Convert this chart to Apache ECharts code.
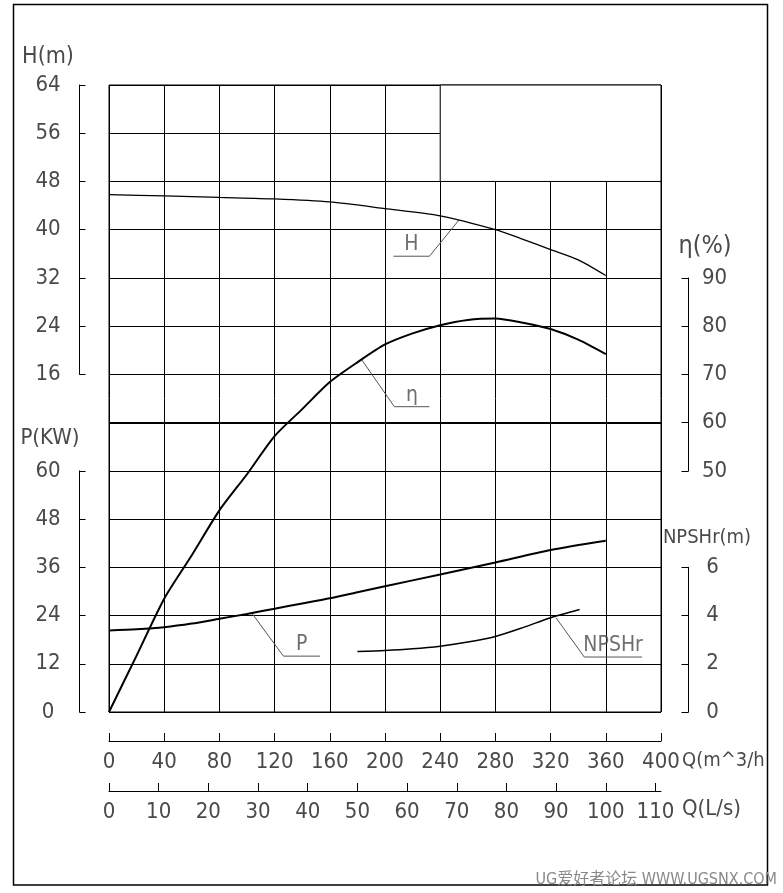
<!DOCTYPE html>
<html><head><meta charset="utf-8">
<script src="https://cdn.jsdelivr.net/npm/echarts@6/dist/echarts.min.js"></script>
<style>html,body{margin:0;padding:0;background:#fff}#c{width:783px;height:893px}</style>
</head><body><div id="c"></div>
<script>
// ---- tick labels ----
const qM3hTicks = [0,40,80,120,160,200,240,280,320,360,400];
const qLsTicks = [0,10,20,30,40,50,60,70,80,90,100,110];
const hTicks = [16,24,32,40,48,56,64];
const etaTicks = [50,60,70,80,90];
const pTicks = [0,12,24,36,48,60];
const npshTicks = [0,2,4,6];

// ---- curves (Q in m^3/h) ----
const qHead = [0,40,80,120,160,200,240,280,300,320,340,360];
const head  = [45.8,45.6,45.35,45.1,44.6,43.5,42.3,40.0,38.4,36.7,35.0,32.4];
const qEff = [0,20,40,60,80,100,120,140,160,180,200,220,240,260,280,300,320,340,360];
const eff  = [0,11.7,23.5,32.5,41.8,49.3,57.2,62.8,68.4,72.5,76.2,78.5,80.2,81.3,81.6,80.7,79.4,77.2,74.2];
const qPow = [0,20,40,60,80,100,120,140,160,180,200,240,280,320,360];
const power = [20.3,20.6,21.1,22.0,23.2,24.4,25.7,27.0,28.3,29.8,31.3,34.2,37.2,40.3,42.6];
const qNpsh = [180,200,220,240,260,280,300,320,341];
const npsh  = [2.51,2.55,2.62,2.73,2.9,3.13,3.5,3.91,4.25];

// ---- curve name leaders (Q, value on own axis) ----
const hLeader    = [[253.6,41.6],[232.2,35.6],[206.1,35.6]];
const etaLeader  = [[183.2,73.0],[206.8,63.3],[232.2,63.3]];
const pLeader    = [[103.5,24.6],[126.4,13.9],[153,13.9]];
const npshLeader = [[323.9,3.91],[344.4,2.28],[386.2,2.28]];
const curveNames = ['H','η','P','NPSHr'];

const FONT = '"DejaVu Sans Condensed","Liberation Sans Narrow","Arial Narrow",sans-serif';
const TXT = '#4a4a4a';
const W = 783, Hh = 893;
const G = {left:109, right:122, top:85, bottom:181};
const plotH = Hh - G.top - G.bottom;
const rowH = plotH / 13;
const FS = 22;

function zip(a,b){ return a.map((v,i)=>[v,b[i]]); }
function subGrid(rowTop,rowBottom){
  return {left:G.left, right:G.right, top:G.top + rowTop*rowH, height:(rowBottom-rowTop)*rowH, show:false};
}
const blackLine = {show:true, onZero:false, lineStyle:{color:'#000', width:1}};
function decoY(grid, pos, ticks, margin, len){
  return {
    gridIndex: grid, type:'value', position: pos, offset: pos==='left'?29.5:27.5,
    min: ticks[0], max: ticks[ticks.length-1], interval: ticks[1]-ticks[0],
    axisLine: blackLine,
    axisTick: {show:true, inside:true, length:len, lineStyle:{color:'#000', width:1}},
    axisLabel: {show:true, align:'center', margin: margin, color:TXT, fontSize:FS, fontFamily:FONT,
                customValues: ticks},
    splitLine: {show:false}
  };
}
function leaderSeries(data, yIdx, name){
  const mid = [(data[1][0]+data[2][0])/2, data[1][1]];
  return [
    {type:'line', xAxisIndex:0, yAxisIndex:yIdx, data:data, symbol:'none', silent:true,
     lineStyle:{color:'#555', width:1}, z:3},
    {type:'scatter', xAxisIndex:0, yAxisIndex:yIdx, data:[mid], symbolSize:0, silent:true,
     label:{show:true, position:'top', distance:1, formatter:name, color:TXT, fontSize:21, fontFamily:FONT}}
  ];
}
function curve(data, yIdx, width){
  return {type:'line', xAxisIndex:0, yAxisIndex:yIdx, data:data, symbol:'none', smooth:0.25,
          silent:true, lineStyle:{color:'#000', width:width}, z:4};
}

const chart = echarts.init(document.getElementById('c'), null, {renderer:'canvas'});
const headSeries = curve(zip(qHead, head), 0, 1.3);
headSeries.markLine = {silent:true, symbol:'none', label:{show:false},
  lineStyle:{color:'#000', width:2.2, type:'solid'}, data:[{yAxis:8}]};
headSeries.markArea = {silent:true, itemStyle:{color:'#fff', borderColor:'#000', borderWidth:1},
  data:[[{xAxis:240, yAxis:48},{xAxis:400, yAxis:64}]]};

const option = {
  animation:false,
  backgroundColor:'#fff',
  grid:[
    {left:G.left, right:G.right, top:G.top, bottom:G.bottom, show:true, borderColor:'#000', borderWidth:1},
    subGrid(0,6),   // H 64..16
    subGrid(4,8),   // eta 90..50
    subGrid(8,13),  // P 60..0
    subGrid(10,13)  // NPSHr 6..0
  ],
  xAxis:[
    {gridIndex:0, type:'value', min:0, max:400, interval:40, position:'bottom', offset:29,
     axisLine:blackLine,
     axisTick:{show:true, inside:true, length:8, lineStyle:{color:'#000'}},
     axisLabel:{color:TXT, fontSize:FS, fontFamily:FONT, margin:10, customValues:qM3hTicks},
     splitLine:{show:true, lineStyle:{color:'#000', width:1}}},
    {gridIndex:0, type:'value', min:0, max:400/3.6, position:'bottom', offset:79,
     axisLine:blackLine,
     axisTick:{show:true, inside:true, length:8, lineStyle:{color:'#000'}, customValues:qLsTicks},
     axisLabel:{color:TXT, fontSize:FS, fontFamily:FONT, margin:10, customValues:qLsTicks},
     splitLine:{show:false}},
    {gridIndex:1, type:'value', min:0, max:400, show:false},
    {gridIndex:2, type:'value', min:0, max:400, show:false},
    {gridIndex:3, type:'value', min:0, max:400, show:false},
    {gridIndex:4, type:'value', min:0, max:400, show:false}
  ],
  yAxis:[
    {gridIndex:0, type:'value', min:-40, max:64, interval:8,
     axisLine:{show:false}, axisTick:{show:false}, axisLabel:{show:false},
     splitLine:{show:true, lineStyle:{color:'#000', width:1}}},
    {gridIndex:0, type:'value', min:0, max:130, interval:10, show:false},
    {gridIndex:0, type:'value', min:0, max:156, interval:12, show:false},
    {gridIndex:0, type:'value', min:0, max:26, interval:2, show:false},
    decoY(1,'left', hTicks, 31.5, 6),
    decoY(2,'right', etaTicks, 26, 7),
    decoY(3,'left', pTicks, 31.5, 6),
    decoY(4,'right', npshTicks, 24, 7)
  ],
  series:[
    headSeries,
    curve(zip(qEff, eff), 1, 2),
    curve(zip(qPow, power), 2, 2),
    curve(zip(qNpsh, npsh), 3, 1.5),
    ...leaderSeries(hLeader, 0, curveNames[0]),
    ...leaderSeries(etaLeader, 1, curveNames[1]),
    ...leaderSeries(pLeader, 2, curveNames[2]),
    ...leaderSeries(npshLeader, 3, curveNames[3])
  ],
  graphic:[
    {type:'rect', silent:true, z:-1, shape:{x:13.5, y:4.5, width:754, height:880.5},
     style:{fill:'none', stroke:'#000', lineWidth:1.5}},
    {type:'text', x:48, y:57, style:{text:'H(m)', fill:TXT, fontSize:23, fontFamily:FONT, align:'center', verticalAlign:'middle'}},
    {type:'text', x:50, y:438, style:{text:'P(KW)', fill:TXT, fontSize:22, fontFamily:FONT, align:'center', verticalAlign:'middle'}},
    {type:'text', x:705, y:246, style:{text:'η(%)', fill:TXT, fontSize:25, fontFamily:FONT, align:'center', verticalAlign:'middle'}},
    {type:'text', x:707, y:538, style:{text:'NPSHr(m)', fill:TXT, fontSize:20, fontFamily:FONT, align:'center', verticalAlign:'middle'}},
    {type:'text', x:682, y:761, style:{text:'Q(m^3/h', fill:TXT, fontSize:20, fontFamily:FONT, align:'left', verticalAlign:'middle'}},
    {type:'text', x:682, y:809, style:{text:'Q(L/s)', fill:TXT, fontSize:22, fontFamily:FONT, align:'left', verticalAlign:'middle'}},
    {type:'text', x:777, y:880, style:{text:'UG爱好者论坛 WWW.UGSNX.COM', fill:'#888', fontSize:16, fontFamily:FONT+',"Noto Sans CJK SC"', align:'right', verticalAlign:'middle'}}
  ]
};
chart.setOption(option);
</script></body></html>
